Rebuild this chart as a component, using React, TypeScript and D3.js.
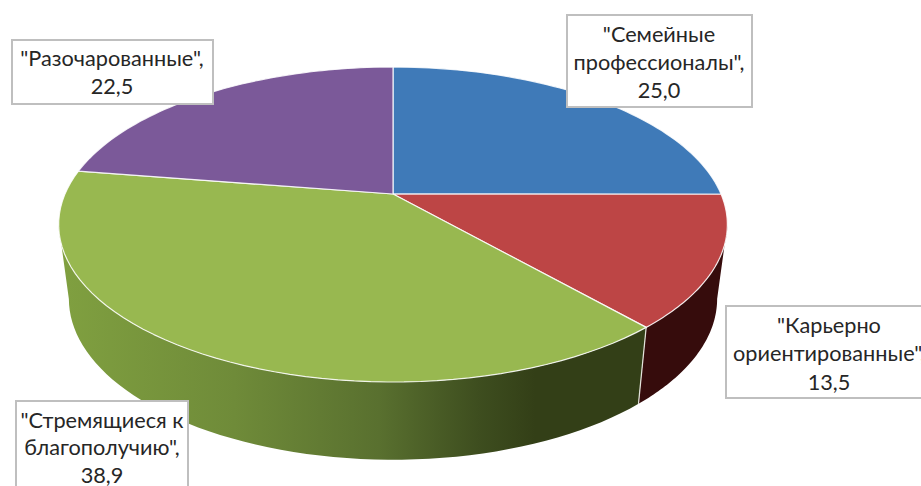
import { useEffect, useRef } from 'react';
import * as d3 from 'd3';

const categories = ['Семейные профессионалы', 'Карьерно ориентированные', 'Стремящиеся к благополучию', 'Разочарованные'];
const values = [25.0, 13.5, 38.9, 22.5];
const valueLabels = ['25,0', '13,5', '38,9', '22,5'];
const labelLines = [
  ['"Семейные', 'профессионалы",', '25,0'],
  ['"Карьерно', 'ориентированные",', '13,5'],
  ['"Стремящиеся к', 'благополучию",', '38,9'],
  ['"Разочарованные",', '22,5'],
];
const colors = ['#3f7ab8', '#bd4545', '#98b850', '#7b5999'];

export default function App() {
  const svgRef = useRef<SVGSVGElement>(null);

  useEffect(() => {
    if (!svgRef.current) return;
    const svg = d3.select(svgRef.current);
    svg.selectAll('*').remove();

    // Excel tilts the pie, so the apex is not the middle of the ellipse: use a projective map
    const persp = -0.1937;
    const top = { cx: 393, cy: 194, a: 328, b: 151.6 };
    const bottom = { cx: 393, cy: 267.5, a: 318, b: 155 };
    const project = (disc: typeof top, angle: number): [number, number] => {
      const u = Math.sin(angle);
      const v = -Math.cos(angle);
      const w = 1 + persp * v;
      return [disc.cx + (disc.a * u) / w, disc.cy + (disc.b * v) / w];
    };

    const rim = (disc: typeof top, from: number, to: number) =>
      d3.range(0, 61).map((i) => project(disc, from + ((to - from) * i) / 60));

    const line = d3.line();
    const slices = d3.pie<number>().sort(null).startAngle(0).endAngle(2 * Math.PI)(values);

    const defs = svg.append('defs');
    const grad = defs
      .append('linearGradient')
      .attr('id', 'greenWall')
      .attr('gradientUnits', 'userSpaceOnUse')
      .attr('x1', 60)
      .attr('x2', 640)
      .attr('y1', 0)
      .attr('y2', 0);
    [
      [0, '#80a040'],
      [0.3, '#6f8b39'],
      [0.55, '#59702f'],
      [0.72, '#3e4e1f'],
      [0.82, '#333f17'],
      [1, '#333f17'],
    ].forEach(([o, c]) => grad.append('stop').attr('offset', o as number).attr('stop-color', c as string));

    // Side wall: only the front part of the rim shows
    const wallFrom = (101.3 * Math.PI) / 180;
    const wallTo = (258.7 * Math.PI) / 180;
    const wall = svg.append('g');
    slices.forEach((s, i) => {
      const from = Math.max(s.startAngle, wallFrom);
      const to = Math.min(s.endAngle, wallTo);
      if (to <= from) return;
      const pts = [...rim(top, from, to), ...rim(bottom, from, to).reverse()];
      wall
        .append('path')
        .attr('d', line(pts) + 'Z')
        .attr('fill', i === 2 ? 'url(#greenWall)' : '#360c0c');
    });
    // divider between the two walls
    const split = slices[2].startAngle;
    wall
      .append('path')
      .attr('d', line([project(top, split), project(bottom, split)]))
      .attr('stroke', '#e4e4dc')
      .attr('stroke-width', 1.2);

    // Top face
    const face = svg.append('g');
    slices.forEach((s, i) => {
      const pts = [[top.cx, top.cy] as [number, number], ...rim(top, s.startAngle, s.endAngle)];
      face
        .append('path')
        .attr('d', line(pts) + 'Z')
        .attr('fill', colors[i])
        .attr('stroke', '#ffffff')
        .attr('stroke-opacity', 0.85)
        .attr('stroke-width', 1.2)
        .attr('stroke-linejoin', 'round');
    });

    // Data labels
    const boxes = [
      { x: 567, y: 15, w: 185, h: 92, tx: 659, base: [42, 70, 98] },
      { x: 726, y: 306, w: 210, h: 92, tx: 829, base: [333, 361, 390] },
      { x: 16, y: 401, w: 172, h: 100, tx: 102, base: [428, 455, 483] },
      { x: 12, y: 40, w: 201, h: 64, tx: 112, base: [66, 94] },
    ];
    boxes.forEach((b, i) => {
      const g = svg.append('g').attr('data-category', categories[i]).attr('data-value', valueLabels[i]);
      g.append('rect')
        .attr('x', b.x)
        .attr('y', b.y)
        .attr('width', b.w)
        .attr('height', b.h)
        .attr('fill', '#ffffff')
        .attr('stroke', '#bfbfbf')
        .attr('stroke-width', 2);
      labelLines[i].forEach((t, j) => {
        g.append('text')
          .attr('x', b.tx)
          .attr('y', b.base[j])
          .attr('text-anchor', 'middle')
          .attr('fill', '#262626')
          .attr('font-family', 'Lato, "Open Sans", sans-serif')
          .attr('font-size', 21.7)
          .text(t);
      });
    });
  }, []);

  return (
    <svg
      ref={svgRef}
      width={921}
      height={486}
      style={{ position: 'fixed', left: 0, top: 0, display: 'block', background: '#ffffff' }}
    />
  );
}
